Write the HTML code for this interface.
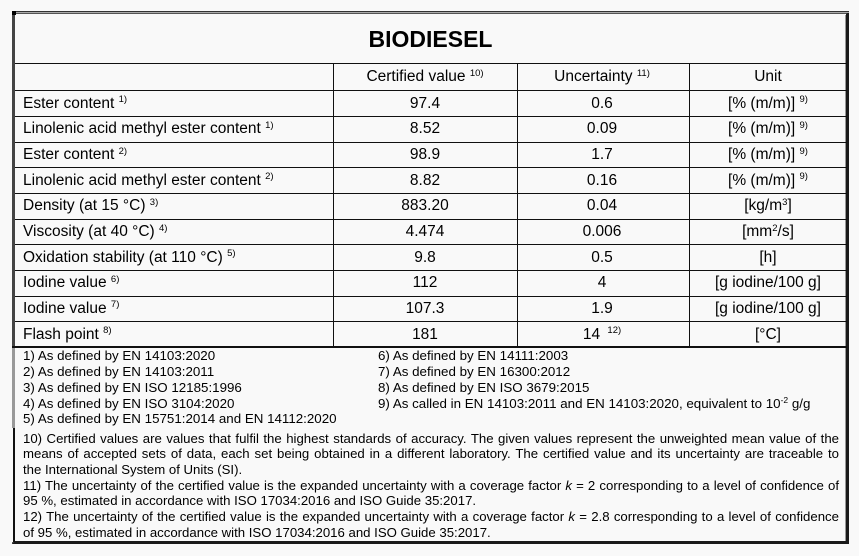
<!DOCTYPE html>
<html>
<head>
<meta charset="utf-8">
<style>
  html,body{margin:0;padding:0;}
  body{width:859px;height:556px;background:#f9f9f9;position:relative;overflow:hidden;
       font-family:"Liberation Sans",Arial,sans-serif;color:#000;}
  .a{position:absolute;}
  .hl{position:absolute;left:15px;width:832px;height:1px;background:#111;}
  .vl{position:absolute;top:63px;height:285px;width:1px;background:#111;}
  .cell{position:absolute;font-size:15.5px;white-space:nowrap;height:25.66px;line-height:25.66px;}
  .c1{left:23px;width:300px;text-align:left;}
  .c2{left:333px;width:184px;text-align:center;}
  .c3{left:517px;width:170px;text-align:center;}
  .c4{left:689px;width:158px;text-align:center;}
  .s{font-size:9.5px;position:relative;top:-5.5px;}
  .s2{font-size:9.5px;position:relative;top:-5.5px;}
  .fn{position:absolute;font-size:13.35px;line-height:15.8px;white-space:nowrap;}
  .pl{position:absolute;left:23px;width:816px;font-size:13.2px;line-height:15.7px;height:15.7px;}
  .j{text-align:justify;text-align-last:justify;}
  .fs{font-size:8.5px;position:relative;top:-5px;}
</style>
</head>
<body>
<!-- outer frame -->
<div class="a" style="left:12px;top:11px;width:837px;height:533px;box-sizing:border-box;border:3px solid;border-color:#555 #1a1a1a #1a1a1a #555;"></div>
<div class="a" style="left:12px;top:11px;width:837px;height:1px;background:#333;"></div>
<div class="a" style="left:12px;top:12px;width:837px;height:1px;background:#aaa;"></div>
<div class="a" style="left:12px;top:11px;width:4px;height:4px;background:#000;"></div>
<div class="a" style="left:845px;top:15px;width:1px;height:526px;background:#999;"></div>
<div class="a" style="left:12px;top:15px;width:3px;height:333px;background:#444;"></div>
<div class="a" style="left:12px;top:348px;width:3px;height:80px;background:#999;"></div>
<div class="a" style="left:13px;top:428px;width:2px;height:114px;background:#111;"></div>
<div class="a" style="left:12px;top:428px;width:1px;height:114px;background:#f9f9f9;"></div>

<!-- horizontal lines -->
<div class="hl" style="top:63px;"></div>
<div class="hl" style="top:90px;"></div>
<div class="hl" style="top:116px;"></div>
<div class="hl" style="top:142px;"></div>
<div class="hl" style="top:167px;"></div>
<div class="hl" style="top:193px;"></div>
<div class="hl" style="top:219px;"></div>
<div class="hl" style="top:244px;"></div>
<div class="hl" style="top:270px;"></div>
<div class="hl" style="top:296px;"></div>
<div class="hl" style="top:321px;"></div>
<div class="hl" style="top:346px;left:12px;width:835px;height:2px;"></div>

<!-- vertical lines -->
<div class="vl" style="left:333px;"></div>
<div class="vl" style="left:517px;"></div>
<div class="vl" style="left:689px;"></div>

<!-- title -->
<div class="a" style="left:15px;top:15px;width:831px;height:48px;line-height:48px;text-align:center;font-weight:bold;font-size:23px;">BIODIESEL</div>

<!-- header row -->
<div class="cell c2" style="top:63px;height:27.5px;line-height:27.5px;">Certified value <span class="s">10)</span></div>
<div class="cell c3" style="top:63px;height:27.5px;line-height:27.5px;">Uncertainty <span class="s">11)</span></div>
<div class="cell c4" style="top:63px;height:27.5px;line-height:27.5px;">Unit</div>

<!-- rows -->
<div class="cell c1" style="top:90.7px;">Ester content <span class="s">1)</span></div>
<div class="cell c2" style="top:90.7px;">97.4</div>
<div class="cell c3" style="top:90.7px;">0.6</div>
<div class="cell c4" style="top:90.7px;">[% (m/m)] <span class="s">9)</span></div>

<div class="cell c1" style="top:116.36px;">Linolenic acid methyl ester content <span class="s">1)</span></div>
<div class="cell c2" style="top:116.36px;">8.52</div>
<div class="cell c3" style="top:116.36px;">0.09</div>
<div class="cell c4" style="top:116.36px;">[% (m/m)] <span class="s">9)</span></div>

<div class="cell c1" style="top:142.02px;">Ester content <span class="s">2)</span></div>
<div class="cell c2" style="top:142.02px;">98.9</div>
<div class="cell c3" style="top:142.02px;">1.7</div>
<div class="cell c4" style="top:142.02px;">[% (m/m)] <span class="s">9)</span></div>

<div class="cell c1" style="top:167.68px;">Linolenic acid methyl ester content <span class="s">2)</span></div>
<div class="cell c2" style="top:167.68px;">8.82</div>
<div class="cell c3" style="top:167.68px;">0.16</div>
<div class="cell c4" style="top:167.68px;">[% (m/m)] <span class="s">9)</span></div>

<div class="cell c1" style="top:193.34px;">Density (at 15 °C) <span class="s">3)</span></div>
<div class="cell c2" style="top:193.34px;">883.20</div>
<div class="cell c3" style="top:193.34px;">0.04</div>
<div class="cell c4" style="top:193.34px;">[kg/m<span class="s2">3</span>]</div>

<div class="cell c1" style="top:219px;">Viscosity (at 40 °C) <span class="s">4)</span></div>
<div class="cell c2" style="top:219px;">4.474</div>
<div class="cell c3" style="top:219px;">0.006</div>
<div class="cell c4" style="top:219px;">[mm<span class="s2">2</span>/s]</div>

<div class="cell c1" style="top:244.66px;">Oxidation stability (at 110 °C) <span class="s">5)</span></div>
<div class="cell c2" style="top:244.66px;">9.8</div>
<div class="cell c3" style="top:244.66px;">0.5</div>
<div class="cell c4" style="top:244.66px;">[h]</div>

<div class="cell c1" style="top:270.32px;">Iodine value <span class="s">6)</span></div>
<div class="cell c2" style="top:270.32px;">112</div>
<div class="cell c3" style="top:270.32px;">4</div>
<div class="cell c4" style="top:270.32px;">[g iodine/100 g]</div>

<div class="cell c1" style="top:295.98px;">Iodine value <span class="s">7)</span></div>
<div class="cell c2" style="top:295.98px;">107.3</div>
<div class="cell c3" style="top:295.98px;">1.9</div>
<div class="cell c4" style="top:295.98px;">[g iodine/100 g]</div>

<div class="cell c1" style="top:321.64px;">Flash point <span class="s">8)</span></div>
<div class="cell c2" style="top:321.64px;">181</div>
<div class="cell c3" style="top:321.64px;">14 <span class="s" style="margin-left:3px;">12)</span></div>
<div class="cell c4" style="top:321.64px;">[°C]</div>

<!-- footnotes column 1 -->
<div class="fn" style="left:23px;top:348.3px;">1) As defined by EN 14103:2020<br>2) As defined by EN 14103:2011<br>3) As defined by EN ISO 12185:1996<br>4) As defined by EN ISO 3104:2020<br>5) As defined by EN 15751:2014 and EN 14112:2020</div>
<!-- footnotes column 2 -->
<div class="fn" style="left:378px;top:348.3px;">6) As defined by EN 14111:2003<br>7) As defined by EN 16300:2012<br>8) As defined by EN ISO 3679:2015<br>9) As called in EN 14103:2011 and EN 14103:2020, equivalent to 10<span class="fs">-2</span> g/g</div>

<!-- paragraphs -->
<div class="pl j" style="top:430.5px;">10) Certified values are values that fulfil the highest standards of accuracy. The given values represent the unweighted mean value of the</div>
<div class="pl j" style="top:446.2px;">means of accepted sets of data, each set being obtained in a different laboratory. The certified value and its uncertainty are traceable to</div>
<div class="pl" style="top:461.9px;">the International System of Units (SI).</div>
<div class="pl j" style="top:477.6px;">11) The uncertainty of the certified value is the expanded uncertainty with a coverage factor <i>k</i> = 2 corresponding to a level of confidence of</div>
<div class="pl" style="top:493.3px;">95 %, estimated in accordance with ISO 17034:2016 and ISO Guide 35:2017.</div>
<div class="pl j" style="top:509px;">12) The uncertainty of the certified value is the expanded uncertainty with a coverage factor <i>k</i> = 2.8 corresponding to a level of confidence</div>
<div class="pl" style="top:524.7px;">of 95 %, estimated in accordance with ISO 17034:2016 and ISO Guide 35:2017.</div>
</body>
</html>
